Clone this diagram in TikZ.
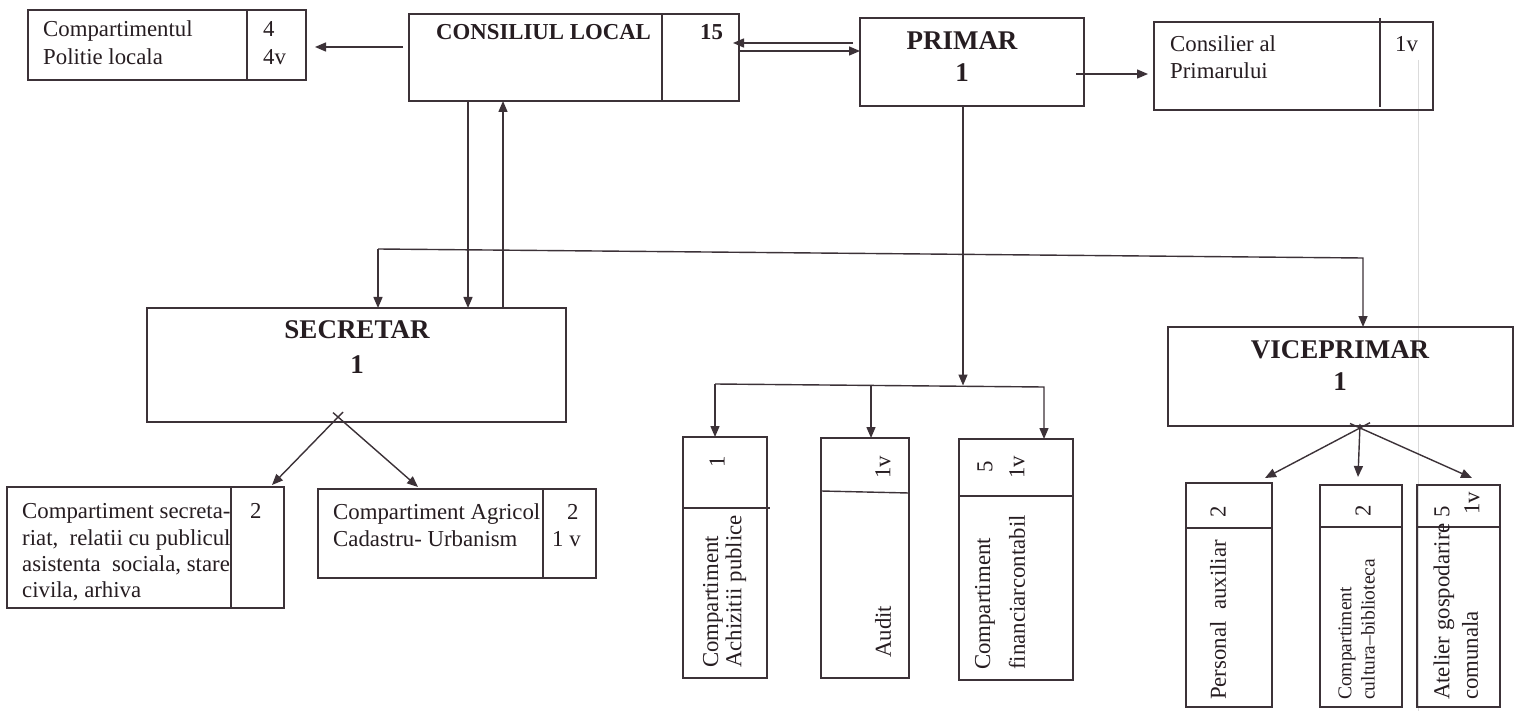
\documentclass[tikz,border=0pt]{standalone}
\usepackage{fontspec}
\setmainfont{Liberation Serif}
\usetikzlibrary{arrows.meta,calc}
\definecolor{ink}{RGB}{60,50,56}
\definecolor{txt}{RGB}{38,29,33}
\begin{document}
\begin{tikzpicture}[x=1pt,y=-1pt,
  box/.style={draw=ink,line width=1.4pt,rectangle,inner sep=0pt,outer sep=0pt},
  arr/.style={draw=ink,line width=1.4pt,-{Triangle[length=11pt,width=9pt]}},
  ln/.style={draw=ink,line width=1.4pt},
  t/.style={text=txt,inner sep=0pt,font=\fontsize{22.8}{27}\selectfont},
  ts/.style={text=txt,inner sep=0pt,font=\fontsize{19.5}{23}\selectfont},
  tb/.style={text=txt,inner sep=0pt,font=\fontsize{22.8}{27}\selectfont\bfseries},
  big/.style={text=txt,inner sep=0pt,font=\fontsize{27}{32}\selectfont\bfseries},
  rt/.style={t,rotate=90,anchor=west},
  rts/.style={ts,rotate=90,anchor=west},
]
\useasboundingbox (0,0) rectangle (1523,711);
\fill[white] (0,0) rectangle (1523,711);
% scan artefact line
\draw[gray!28,line width=0.8pt] (1418,60) -- (1418,711);

% boxes
\node[box,minimum width=278pt,minimum height=70pt] (pol) at (167,45) {};
\node[box,minimum width=330pt,minimum height=87pt] (cl) at (574,57.5) {};
\node[box,minimum width=224pt,minimum height=88pt] (pri) at (972,62) {};
\node[box,minimum width=279pt,minimum height=88pt] (cons) at (1293.5,66) {};
\node[box,minimum width=419pt,minimum height=114pt] (sec) at (356.5,365) {};
\node[box,minimum width=345pt,minimum height=99pt] (vice) at (1340.5,376.5) {};
\node[box,minimum width=277pt,minimum height=121pt] (ss) at (145.5,547.5) {};
\node[box,minimum width=278pt,minimum height=89pt] (agr) at (457,533.5) {};
\node[box,minimum width=84pt,minimum height=241pt] (ach) at (725,557.5) {};
\node[box,minimum width=88pt,minimum height=240pt] (aud) at (865,558) {};
\node[box,minimum width=114pt,minimum height=241pt] (fin) at (1016,559.5) {};
\node[box,minimum width=86pt,minimum height=224pt] (pers) at (1229,595) {};
\node[box,minimum width=82pt,minimum height=222pt] (cult) at (1361,596) {};
\node[box,minimum width=83pt,minimum height=222pt] (atel) at (1458.5,596) {};

% dividers
\draw[ln] (pol.north-|247,0) -- (pol.south-|247,0);
\draw[ln] (cl.north-|662,0) -- (cl.south-|662,0);
\draw[ln] (1380,18) -- (1380,107);
\draw[ln] (ss.north-|231,0) -- (ss.south-|231,0);
\draw[ln] (agr.north-|543,0) -- (agr.south-|543,0);
\draw[ln] (ach.west|-0,508) -- (770,508);
\draw[ln] (aud.west|-0,491) -- (aud.east|-0,493);
\draw[ln] (fin.west|-0,496) -- (fin.east|-0,496);
\draw[ln] (pers.west|-0,528) -- (pers.east|-0,528);
\draw[ln] (cult.west|-0,527) -- (cult.east|-0,527);
\draw[ln] (atel.west|-0,527) -- (atel.east|-0,527);

% texts
\node[t,anchor=base west] at (43,37) {Compartimentul};
\node[t,anchor=base west] at (43,65) {Politie locala};
\node[t,anchor=base west] at (263,37) {4};
\node[t,anchor=base west] at (263,65) {4v};
\node[tb,anchor=base west] at (436,40) {CONSILIUL LOCAL};
\node[tb,anchor=base west] at (700,40) {15};
\node[big,anchor=base] at (962,50) {PRIMAR};
\node[big,anchor=base] at (962,82) {1};
\node[t,anchor=base west] at (1170,52) {Consilier al};
\node[t,anchor=base west] at (1170,79) {Primarului};
\node[t,anchor=base west] at (1395,52) {1v};
\node[big,anchor=base] at (357,338) {SECRETAR};
\node[big,anchor=base] at (357,373) {1};
\node[big,anchor=base] at (1340,358) {VICEPRIMAR};
\node[big,anchor=base] at (1340,390) {1};
\node[t,anchor=base west] at (22,518) {Compartiment secreta-};
\node[t,anchor=base west] at (22,545) {riat,\ \ relatii cu publicul};
\node[t,anchor=base west] at (22,571) {asistenta\ \ sociala, stare};
\node[t,anchor=base west] at (22,597) {civila, arhiva};
\node[t,anchor=base west] at (250,518) {2};
\node[t,anchor=base west] at (333,519) {Compartiment Agricol};
\node[t,anchor=base west] at (333,546) {Cadastru- Urbanism};
\node[t,anchor=base west] at (567,519) {2};
\node[t,anchor=base west] at (552,546) {1 v};
% rotated texts
\node[t,rotate=90] at (717,462) {1};
\node[rt] at (713,668) {Compartiment};
\node[rt] at (736,668) {Achizitii publice};
\node[t,rotate=90] at (883,467) {1v};
\node[rt] at (883,658) {Audit};
\node[t,rotate=90] at (985,467) {5};
\node[t,rotate=90] at (1017,467) {1v};
\node[rt] at (985,670) {Compartiment};
\node[rt] at (1017,670) {financiarcontabil};
\node[t,rotate=90] at (1218,512) {2};
\node[rt] at (1218,700) {Personal\ \ auxiliar};
\node[t,rotate=90] at (1363,511) {2};
\node[rts] at (1347,700) {Compartiment};
\node[rts] at (1368,700) {cultura--biblioteca};
\node[rt] at (1444,700) {Atelier gospodarire 5};
\node[rt] at (1470,700) {comunala};
\node[t,rotate=90] at (1472,503) {1v};

% connectors
\draw[arr] ($(cl.west|-0,47)+(-6,0)$) -- ($(pol.east|-0,47)+(9,0)$);
\draw[arr] ($(pri.west|-0,43)+(-7,0)$) -- ($(cl.east|-0,43)+(-6,0)$);
\draw[arr] (cl.east|-0,51) -- (pri.west|-0,51);
\draw[arr] ($(pri.east|-0,74)+(-8,0)$) -- ($(cons.west|-0,74)+(-6,0)$);
\draw[arr] (cl.south-|468,0) -- (sec.north-|468,0);
\draw[arr] (sec.north-|503,0) -- (cl.south-|503,0);

\coordinate (hl) at (378,249);
\coordinate (hr) at (1363,258);
\draw[arr] (hl) -- (hr) -- (vice.north-|hr);
\draw[arr] (hl) -- (sec.north-|hl);

\coordinate (bl) at (715,384);
\coordinate (br) at (1044,387);
\draw[arr] (pri.south-|963,0) -- (963,385.5);
\draw[arr] (bl) -- (br) -- (fin.north-|br);
\draw[arr] (bl) -- (ach.north-|bl);
\draw[arr] (871,385.5) -- (aud.north-|871,0);

\coordinate (sx) at (338,417);
\draw[arr] ($(sx)+(5,-5)$) -- ($(ss.north-|272,0)+(0,-2)$);
\draw[arr] ($(sx)+(-5,-4.4)$) -- ($(agr.north-|418,0)+(0,-2)$);

\coordinate (vx) at (1360,428);
\draw[arr] ($(vx)+(10,-5.3)$) -- ($(pers.north-|1265,0)+(0,-5)$);
\draw[arr] ($(vx)+(0,-4)$) -- ($(cult.north-|1358,0)+(0,-8)$);
\draw[arr] ($(vx)+(-10,-4.5)$) -- ($(atel.north-|1472,0)+(0,-7)$);
\end{tikzpicture}
\end{document}
